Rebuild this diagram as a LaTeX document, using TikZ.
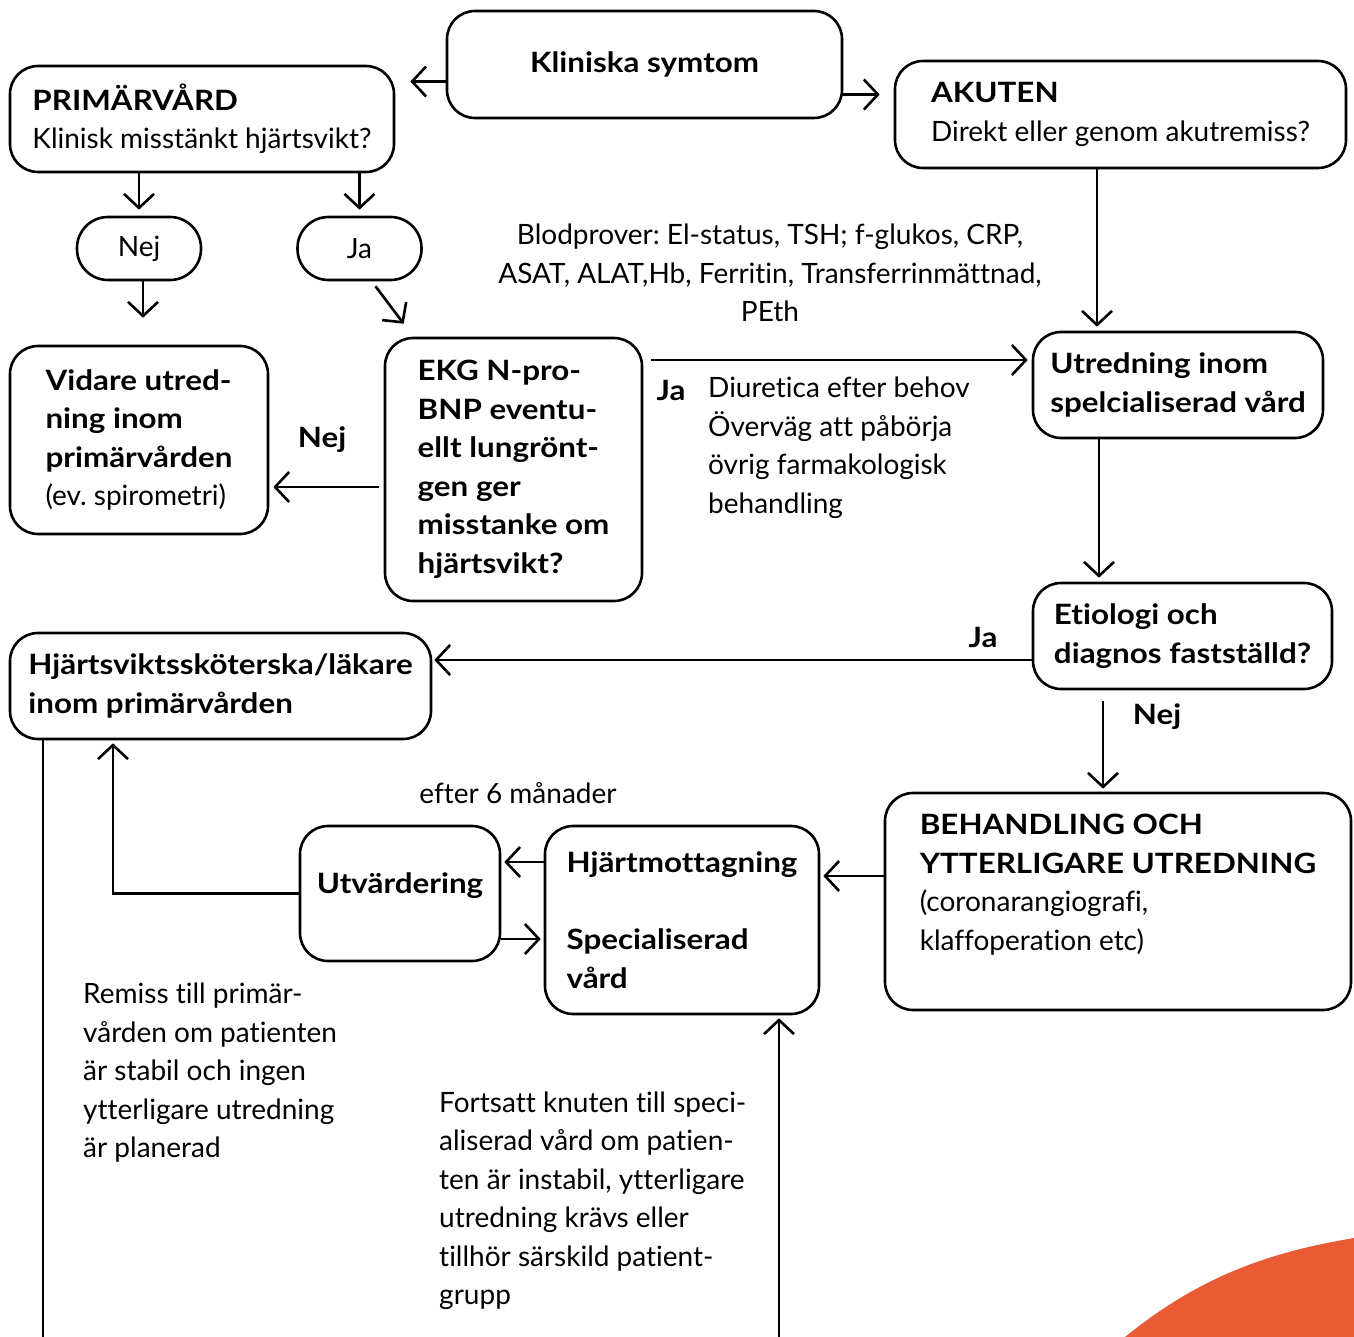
\documentclass[tikz,border=0pt]{standalone}
\usepackage{fontspec}
\setmainfont{Lato}[Ligatures=NoCommon, BoldFeatures={FakeStretch=1.12}]
\usepackage{tikz}
\usetikzlibrary{arrows.meta}
\definecolor{accent}{HTML}{E95B35}
\frenchspacing

\begin{document}
\begin{tikzpicture}[x=1pt, y=-1pt,
    font=\fontsize{28pt}{38.5pt}\selectfont,
    box/.style={draw, line width=2.6pt, rounded corners=28pt, align=left, inner sep=0pt},
    boldbox/.style={box, font=\fontsize{28pt}{38.5pt}\selectfont\bfseries},
    pill/.style={draw, line width=2.6pt, rounded corners=31pt, inner sep=0pt,
        minimum width=124pt, minimum height=63pt},
    note/.style={align=left, inner sep=0pt, anchor=west},
    lbl/.style={font=\fontsize{28pt}{38.5pt}\selectfont\bfseries, inner sep=0pt},
    flow/.style={->, line width=2.6pt},
    >={Straight Barb[length=14pt,width=30pt]} % Pfeilspitzen
    ]
    \useasboundingbox (0,0) rectangle (1354,1337);

    % Hintergrund
    \fill[accent] (1125,1337) .. controls (1200,1276) and (1270,1252) .. (1354,1238)
        -- (1354,1337) -- cycle;

    % Kaesten
    \node[boldbox, minimum width=395pt, minimum height=107pt]
        (klin) at (644.5,64.5) {Kliniska symtom};
    \node[box, minimum width=384pt, minimum height=106pt]
        (prim) at (202,119) {\textbf{PRIMÄRVÅRD}\\Klinisk misstänkt hjärtsvikt?};
    \node[box, minimum width=451pt, minimum height=107pt]
        (akut) at (1120.5,114.5) {\textbf{AKUTEN}\\Direkt eller genom akutremiss?};
    \node[pill] (nej) at (139,248.5) {Nej};
    \node[pill] (ja) at (359.5,248.5) {Ja};
    \node[box, minimum width=258pt, minimum height=188pt]
        (vidare) at (139,440) {\textbf{Vidare utred-}\\\textbf{ning inom}\\\textbf{primärvården}\\(ev. spirometri)};
    \node[boldbox, minimum width=257pt, minimum height=263pt]
        (ekg) at (513.5,469.5) {EKG N-pro-\\BNP eventu-\\ellt lungrönt-\\gen ger\\misstanke om\\hjärtsvikt?};
    \node[boldbox, minimum width=290pt, minimum height=106pt]
        (utred) at (1178,385) {Utredning inom\\spelcialiserad vård};
    \node[boldbox, minimum width=299pt, minimum height=106pt]
        (etio) at (1182.5,636) {Etiologi och\\diagnos fastställd?};
    \node[boldbox, minimum width=421pt, minimum height=106pt]
        (hsk) at (220.5,686) {Hjärtsviktssköterska/läkare\\inom primärvården};
    \node[box, minimum width=466pt, minimum height=217pt]
        (beh) at (1118,901.5) {\textbf{BEHANDLING OCH}\\\textbf{YTTERLIGARE UTREDNING}\\(coronarangiografi,\\klaffoperation etc)\\\mbox{}};
    \node[boldbox, minimum width=274pt, minimum height=188pt]
        (hmott) at (682,920) {Hjärtmottagning\\\mbox{}\\Specialiserad\\vård};
    \node[boldbox, minimum width=200pt, minimum height=135pt]
        (utv) at (400,893.5) {Utvärdering\\[-18pt]\mbox{}};

    % Texte
    \node[inner sep=0pt, align=center] (blod) at (770,273)
        {Blodprover: El-status, TSH; f-glukos, CRP,\\ASAT, ALAT,Hb, Ferritin, Transferrinmättnad,\\PEth};
    \node[note] (diur) at (708,447.5) {Diuretica efter behov\\Överväg att påbörja\\övrig farmakologisk\\behandling};
    \node[note] (remiss) at (83,1073) {Remiss till primär-\\vården om patienten\\är stabil och ingen\\ytterligare utredning\\är planerad};
    \node[note] (forts) at (439,1200.5) {Fortsatt knuten till speci-\\aliserad vård om patien-\\ten är instabil, ytterligare\\utredning krävs eller\\tillhör särskild patient-\\grupp};
    \node[inner sep=0pt] (efter) at (518,793) {efter 6 månader};
    \node[lbl] (l-nej1) at (322,440) {Nej};
    \node[lbl] (l-ja1) at (671,390) {Ja};
    \node[lbl] (l-ja2) at (983,637) {Ja};
    \node[lbl] (l-nej2) at (1157,717) {Nej};

    % freie Enden
    \coordinate (bl) at (43,1337);
    \coordinate (br) at (779,1337);

    % Pfeile
    \draw[flow, shorten >=15pt] ([yshift=-17pt]klin.west) -- ([yshift=-17pt]klin.west -| prim.east);
    \draw[flow, shorten >=14pt] ([yshift=-30pt]klin.east) -- ([yshift=-30pt]klin.east -| akut.west);
    \draw[flow, shorten >=6pt] (nej.north |- prim.south) -- (nej.north);
    \draw[flow, shorten >=6pt] (ja.north |- prim.south) -- (ja.north);
    \draw[flow, shorten >=27pt] ([xshift=4pt]nej.south) -- ([xshift=4pt]nej.south |- vidare.north);
    \draw[flow] ([shift={(16,5)}]ja.south) -- ([shift={(20,-13)}]ekg.north west);
    \draw[flow, shorten >=4pt] ([xshift=-23.5pt]akut.south) -- ([xshift=-23.5pt]akut.south |- utred.north);
    \draw[flow, shorten <=8pt, shorten >=4pt] ([yshift=25pt]utred.west -| ekg.east) -- ([yshift=25pt]utred.west);
    \draw[flow, shorten <=5pt, shorten >=4pt] ([yshift=-17.5pt]ekg.west) -- ([yshift=-17.5pt]ekg.west -| vidare.east);
    \draw[flow, shorten >=4pt] ([xshift=-79pt]utred.south) -- ([xshift=-79pt]utred.south |- etio.north);
    \draw[flow, shorten >=2pt] ([yshift=-24pt]etio.west) -- ([yshift=-24pt]etio.west -| hsk.east);
    \draw[flow, shorten <=11pt, shorten >=3pt] ([xshift=-79.5pt]etio.south) -- ([xshift=-79.5pt]etio.south |- beh.north);
    \draw[flow, shorten >=3pt] ([yshift=25.5pt]beh.west) -- ([yshift=25.5pt]beh.west -| hmott.east);
    \draw[flow, shorten >=3pt] ([yshift=58pt]hmott.west) -- ([yshift=58pt]hmott.west -| utv.east);
    \draw[flow, shorten >=3pt] ([yshift=-45.5pt]utv.east) -- ([yshift=-45.5pt]utv.east -| hmott.west);
    \draw[flow, shorten >=3pt] (utv.west) -| ([xshift=-107.5pt]hsk.south);
    \draw[line width=2.6pt] (hsk.south -| bl) -- (bl);
    \draw[flow, shorten >=3pt] (br) -- (br |- hmott.south);
\end{tikzpicture}
\end{document}
